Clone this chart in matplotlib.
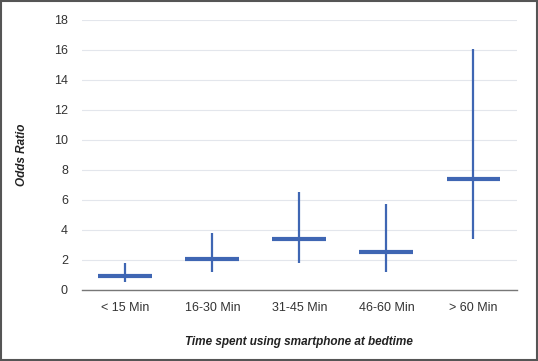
import numpy as np
import matplotlib.pyplot as plt
from matplotlib.patches import Rectangle

plt.rcParams['font.family'] = ['Liberation Sans', 'DejaVu Sans']

categories = ["< 15 Min", "16-30 Min", "31-45 Min", "46-60 Min", "> 60 Min"]
odds = [0.9, 2.05, 3.38, 2.5, 7.4]
lower = [0.55, 1.18, 1.78, 1.2, 3.4]
upper = [1.82, 3.82, 6.55, 5.71, 16.05]

blue = "#3f66b3"

fig = plt.figure(figsize=(5.38, 3.61), dpi=100)
ax = fig.add_axes([0.152, 0.197, 0.809, 0.748])

x = np.arange(len(categories))
ax.vlines(x, lower, upper, color=blue, lw=1.6, zorder=3)
ax.hlines(odds, x - 0.31, x + 0.31, color=blue, lw=3, zorder=3)

ax.set_xlim(-0.5, len(categories) - 0.5)
ax.set_ylim(0, 18)
ax.set_yticks(range(0, 19, 2))
ax.set_xticks(x)
ax.set_xticklabels(categories)
ax.tick_params(length=0, labelsize=9, labelcolor="#333333")
ax.tick_params(axis="y", pad=10)
ax.tick_params(axis="x", pad=9)
ax.grid(axis="y", color="#e3e6ec", lw=0.8)
ax.set_axisbelow(True)
for s in ["top", "right", "left"]:
    ax.spines[s].set_visible(False)
ax.spines["bottom"].set_color("#777777")
ax.spines["bottom"].set_linewidth(1)

fig.text(0.04, 0.57, "Odds Ratio", rotation=90, ha="center", va="center",
         fontsize=8.5, fontweight="bold", fontstyle="italic", color="#222222")
fig.text(0.556, 0.053, "Time spent using smartphone at bedtime", ha="center", va="center",
         fontsize=8.5, fontweight="bold", fontstyle="italic", color="#222222")

fig.patches.append(Rectangle((0.002, 0.003), 0.996, 0.994, transform=fig.transFigure,
                             fill=False, edgecolor="#555555", lw=1.5))

fig.savefig("out.png", dpi=100)
